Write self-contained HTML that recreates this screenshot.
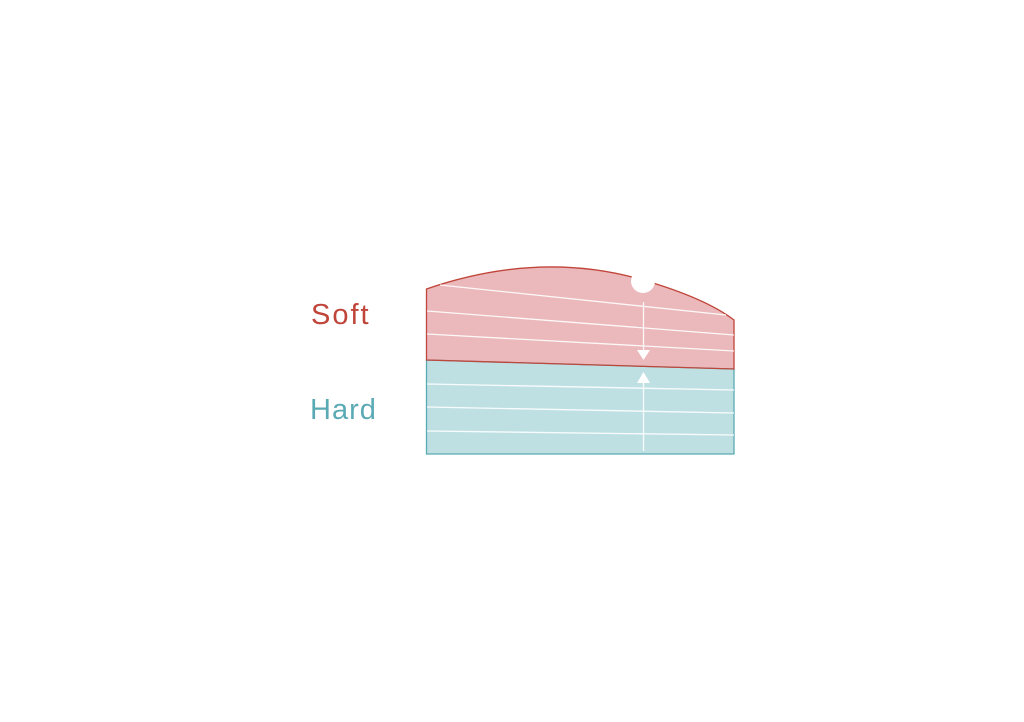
<!DOCTYPE html>
<html><head><meta charset="utf-8"><style>
html,body{margin:0;padding:0;background:#fff;}
svg{display:block;}
</style></head><body>
<svg width="1024" height="722" viewBox="0 0 1024 722" xmlns="http://www.w3.org/2000/svg">
<rect width="1024" height="722" fill="#fff"/>
<path d="M426.5,289 Q540,250 643,280 Q705,298 734,320 L734,369 L426.5,360 Z" fill="#ebb8bb"/>
<path d="M426.5,360 L734,369 L734,454 L426.5,454 Z" fill="#bfe0e3" stroke="#5aaab5" stroke-width="1.3"/>
<path d="M426.5,360 L426.5,289 Q540,250 643,280 Q705,298 734,320 L734,369 Z" fill="none" stroke="#c0453a" stroke-width="1.3"/>
<g stroke="#fff" stroke-width="1.3" fill="none" opacity="0.9">
<line x1="440" y1="285" x2="726" y2="315"/>
<line x1="427" y1="311" x2="734" y2="335"/>
<line x1="427" y1="334" x2="734" y2="351"/>
<line x1="427" y1="384" x2="734" y2="390"/>
<line x1="427" y1="407" x2="734" y2="413"/>
<line x1="427" y1="431" x2="734" y2="435"/>
<line x1="643.5" y1="302" x2="643.5" y2="352"/>
<line x1="643.5" y1="380" x2="643.5" y2="451"/>
</g>
<circle cx="643" cy="281" r="12" fill="#fff"/>
<polygon points="637,350 650,350 643.5,360" fill="#fff"/>
<polygon points="637,383 650,383 643.5,372" fill="#fff"/>
<text x="311" y="324" font-family="Liberation Sans, sans-serif" font-size="29" letter-spacing="2" fill="#c0453a">Soft</text>
<text x="310" y="419" font-family="Liberation Sans, sans-serif" font-size="29" letter-spacing="1" fill="#5aaab5">Hard</text>
</svg>
</body></html>
